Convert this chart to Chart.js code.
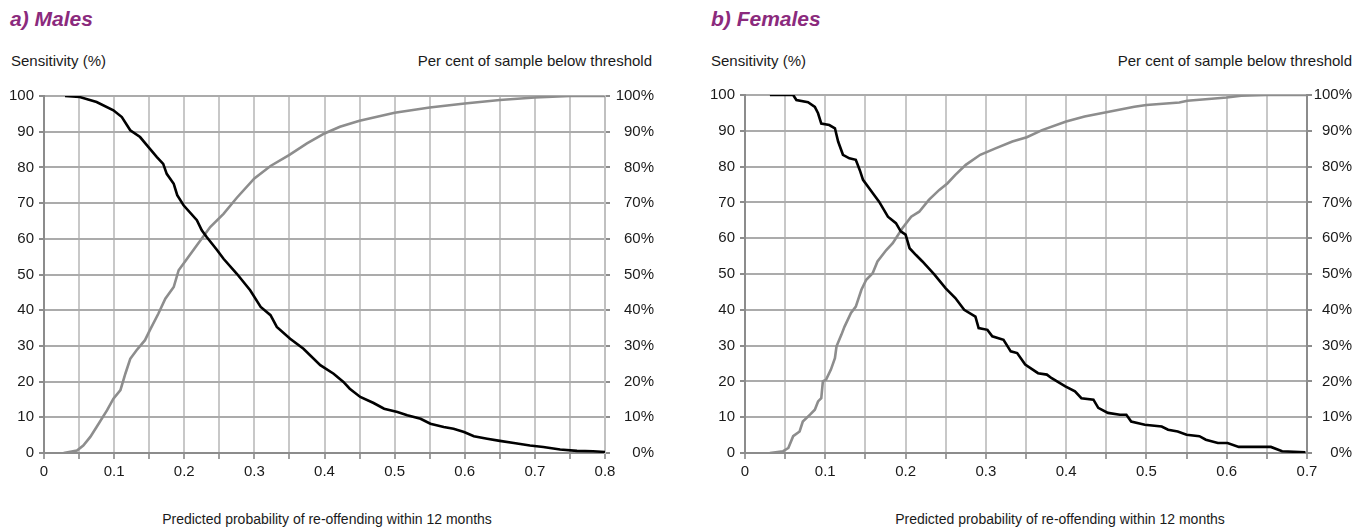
<!DOCTYPE html>
<html>
<head>
<meta charset="utf-8">
<script src="https://cdn.jsdelivr.net/npm/chart.js@4.4.1/dist/chart.umd.min.js"></script>
<style>
  body { margin: 0; background: #fff; width: 1367px; height: 529px; overflow: hidden; position: relative;
         font-family: "Liberation Sans", Arial, sans-serif; color: #1a1a1a; }
  .panel { position: absolute; top: 0; height: 529px; }
  .panel canvas { position: absolute; left: 0; top: 0; }
  .head { position: absolute; top: 8px; font-weight: bold; font-style: italic; font-size: 21px; line-height: 21px;
          color: #8b2a7d; white-space: nowrap; }
  .cap { position: absolute; top: 53px; font-size: 15px; line-height: 15px; white-space: nowrap; }
  .xt { position: absolute; top: 512px; width: 400px; font-size: 14px; line-height: 14px; text-align: center; white-space: nowrap; }
</style>
</head>
<body>
<div class="head" style="left:10px">a) Males</div>
<div class="cap" style="left:11px">Sensitivity (%)</div>
<div class="cap" style="right:715px">Per cent of sample below threshold</div>
<div class="xt" style="left:127px">Predicted probability of re-offending within 12 months</div>
<div class="panel" style="left:0;width:654px"><canvas id="malesChart" width="654" height="529"></canvas></div>

<div class="head" style="left:711px">b) Females</div>
<div class="cap" style="left:711px">Sensitivity (%)</div>
<div class="cap" style="right:15px">Per cent of sample below threshold</div>
<div class="xt" style="left:860px">Predicted probability of re-offending within 12 months</div>
<div class="panel" style="left:701px;width:651px"><canvas id="femalesChart" width="651" height="529"></canvas></div>

<script>
// tick labels
const yTicks = ["0", "10", "20", "30", "40", "50", "60", "70", "80", "90", "100"];
const pctTicks = ["0%", "10%", "20%", "30%", "40%", "50%", "60%", "70%", "80%", "90%", "100%"];
const maleXTicks = ["0", "0.1", "0.2", "0.3", "0.4", "0.5", "0.6", "0.7", "0.8"];
const femaleXTicks = ["0", "0.1", "0.2", "0.3", "0.4", "0.5", "0.6", "0.7"];

// males: sensitivity (black)
const maleSensX = [0.03, 0.051, 0.075, 0.099, 0.111, 0.123, 0.137, 0.149, 0.161, 0.170, 0.175, 0.185, 0.190, 0.199, 0.218,
  0.225, 0.232, 0.247, 0.256, 0.275, 0.294, 0.309, 0.323, 0.332, 0.351, 0.370, 0.394, 0.413, 0.427, 0.436, 0.451, 0.470,
  0.485, 0.504, 0.518, 0.537, 0.551, 0.570, 0.584, 0.599, 0.613, 0.632, 0.650, 0.670, 0.693, 0.712, 0.736, 0.760, 0.783, 0.8];
const maleSensY = [100, 99.7, 98.3, 96.0, 94.1, 90.4, 88.5, 85.7, 82.9, 81.0, 78.2, 75.4, 72.2, 69.4, 65.2,
  62.4, 60.5, 56.8, 54.4, 50.2, 45.6, 40.9, 38.6, 35.3, 32.0, 29.2, 24.6, 22.2, 19.9, 18.0, 15.7, 14.0,
  12.4, 11.5, 10.6, 9.6, 8.2, 7.3, 6.8, 5.9, 4.7, 4.0, 3.4, 2.8, 2.1, 1.7, 1.0, 0.6, 0.5, 0.3];

// males: per cent of sample below threshold (grey)
const maleBelowX = [0.028, 0.047, 0.056, 0.066, 0.075, 0.090, 0.099, 0.109, 0.116, 0.123, 0.132, 0.144, 0.151, 0.163,
  0.173, 0.185, 0.192, 0.204, 0.218, 0.237, 0.256, 0.275, 0.3, 0.323, 0.35, 0.375, 0.4, 0.422, 0.45, 0.475, 0.5,
  0.55, 0.6, 0.65, 0.7, 0.75, 0.8];
const maleBelowY = [0, 0.7, 2.1, 4.5, 7.3, 12.0, 15.2, 17.6, 22.2, 26.4, 28.8, 31.6, 34.4, 39.0,
  43.2, 46.5, 51.2, 54.4, 58.2, 63.3, 67.0, 71.5, 76.9, 80.4, 83.5, 86.7, 89.5, 91.4, 93.1, 94.2, 95.3,
  96.8, 97.9, 98.9, 99.6, 100, 100];

// females: sensitivity (black)
const femaleSensX = [0.031, 0.060, 0.064, 0.0785, 0.087, 0.091, 0.095, 0.105, 0.112, 0.116, 0.122, 0.130, 0.138, 0.143,
  0.147, 0.159, 0.167, 0.178, 0.188, 0.194, 0.200, 0.205, 0.213, 0.221, 0.236, 0.250, 0.262, 0.273, 0.287, 0.291,
  0.302, 0.308, 0.322, 0.331, 0.339, 0.349, 0.365, 0.376, 0.382, 0.399, 0.411, 0.419, 0.434, 0.440, 0.452, 0.467,
  0.475, 0.481, 0.498, 0.519, 0.527, 0.539, 0.550, 0.566, 0.574, 0.589, 0.601, 0.615, 0.655, 0.669, 0.698];
const femaleSensY = [100, 100, 98.6, 98, 96.7, 94.9, 92, 91.6, 90.7, 87, 83.3, 82.3, 81.9, 79,
  76.3, 72.6, 70.2, 66, 64.2, 61.9, 61, 57.2, 55.3, 53.5, 49.8, 46, 43.3, 40, 38.1, 34.9,
  34.4, 32.6, 31.6, 28.4, 27.9, 24.7, 22.3, 21.9, 20.9, 18.6, 17.2, 15.3, 14.9, 12.6, 11.2, 10.7,
  10.7, 8.8, 7.9, 7.4, 6.5, 6.0, 5.1, 4.7, 3.7, 2.8, 2.8, 1.7, 1.7, 0.5, 0.2];

// females: per cent of sample below threshold (grey)
const femaleBelowX = [0.031, 0.0475, 0.054, 0.060, 0.068, 0.072, 0.081, 0.087, 0.091, 0.095, 0.097, 0.101, 0.107,
  0.112, 0.114, 0.120, 0.124, 0.132, 0.138, 0.145, 0.151, 0.159, 0.165, 0.176, 0.184, 0.196, 0.207, 0.217, 0.229,
  0.242, 0.252, 0.262, 0.275, 0.293, 0.312, 0.333, 0.351, 0.370, 0.4, 0.423, 0.45, 0.485, 0.5, 0.541, 0.551,
  0.6, 0.618, 0.65, 0.7];
const femaleBelowY = [0, 0.5, 1.4, 4.7, 6.0, 8.8, 10.7, 12.1, 14.4, 15.3, 20, 20.5, 23.3,
  26.5, 29.8, 33, 35.3, 39.1, 40.9, 45.6, 48.4, 50.2, 53.5, 56.7, 58.6, 62.8, 66, 67.4, 70.7,
  73.5, 75.3, 77.7, 80.5, 83.3, 85.1, 87, 88.2, 90.2, 92.6, 94, 95.2, 96.7, 97.2, 97.9, 98.4,
  99.3, 99.8, 100, 100];

Chart.defaults.font.family = '"Liberation Sans", Arial, sans-serif';
Chart.defaults.font.size = 15;
Chart.defaults.color = "#1a1a1a";

function toPoints(xs, ys) {
  return xs.map((x, i) => ({ x, y: ys[i] }));
}

function makeChart(canvasId, cfg) {
  return new Chart(document.getElementById(canvasId), {
    type: "line",
    data: {
      datasets: [
        {
          label: "Sensitivity",
          data: toPoints(cfg.sensX, cfg.sensY),
          borderColor: "#000000",
          borderWidth: 2.6,
          pointRadius: 0,
          tension: 0,
          yAxisID: "y"
        },
        {
          label: "Per cent of sample below threshold",
          data: toPoints(cfg.belowX, cfg.belowY),
          borderColor: "#8d8d8d",
          borderWidth: 2.6,
          pointRadius: 0,
          tension: 0,
          yAxisID: "y2"
        }
      ]
    },
    options: {
      responsive: false,
      animation: false,
      layout: { padding: { top: cfg.top, left: 0, right: 0, bottom: 0 } },
      plugins: { legend: { display: false }, tooltip: { enabled: false } },
      scales: {
        x: {
          type: "linear",
          min: 0,
          max: cfg.xMax,
          afterFit: (s) => { s.height = 76; },
          ticks: {
            stepSize: 0.05,
            autoSkip: false,
            maxRotation: 0,
            padding: 4,
            callback: (v, i) => (i % 2 === 0 ? cfg.xTicks[i / 2] : "")
          },
          grid: { color: "#c8c8c8", lineWidth: 2, tickLength: 6, tickColor: "#a0a0a0" },
          border: { color: "#8c8c8c", width: 2 }
        },
        y: {
          position: "left",
          min: 0,
          max: 100,
          afterFit: (s) => { s.width = 44; },
          ticks: { stepSize: 10, padding: 5, callback: (v, i) => yTicks[i] },
          grid: { color: "#ababab", lineWidth: 2, tickLength: 5, tickColor: "#8c8c8c" },
          border: { color: "#8c8c8c", width: 2 }
        },
        y2: {
          position: "right",
          min: 0,
          max: 100,
          afterFit: (s) => { s.width = cfg.rightWidth; },
          ticks: { stepSize: 10, padding: 3, crossAlign: "far", callback: (v, i) => pctTicks[i] },
          grid: { drawOnChartArea: false, tickLength: 5, color: "#8c8c8c", lineWidth: 2 },
          border: { color: cfg.rightBorder, width: 2 }
        }
      }
    }
  });
}

makeChart("malesChart", {
  sensX: maleSensX, sensY: maleSensY, belowX: maleBelowX, belowY: maleBelowY,
  xMax: 0.8, xTicks: maleXTicks, top: 96, rightWidth: 49, rightBorder: "#c0c0c0"
});

makeChart("femalesChart", {
  sensX: femaleSensX, sensY: femaleSensY, belowX: femaleBelowX, belowY: femaleBelowY,
  xMax: 0.7, xTicks: femaleXTicks, top: 95, rightWidth: 45, rightBorder: "#8c8c8c"
});
</script>
</body>
</html>
